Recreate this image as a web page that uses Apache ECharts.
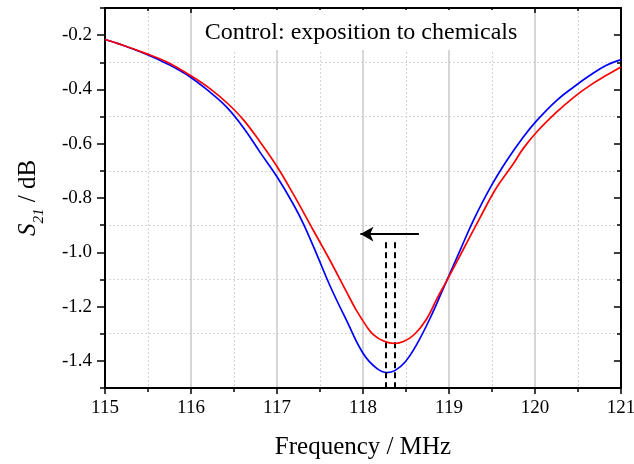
<!DOCTYPE html>
<html>
<head>
<meta charset="utf-8">
<script src="https://cdn.jsdelivr.net/npm/echarts@6/dist/echarts.min.js"></script>
<style>html,body{margin:0;padding:0;background:#fff}#c{width:634px;height:464px}</style>
</head>
<body>
<div id="c"></div>
<script>
const FONT = '"Liberation Serif", "Times New Roman", serif';
const titleText = 'Control: exposition to chemicals';
const xName = 'Frequency / MHz';
const xTicks = [115, 116, 117, 118, 119, 120, 121];
const yMajor = [-1.4, -1.2, -1.0, -0.8, -0.6, -0.4, -0.2];

const redX = [115.0,115.17,115.48,115.72,115.99,116.22,116.42,116.61,116.80,117.0,117.19,117.42,117.62,117.81,117.92,118.04,118.12,118.24,118.37,118.47,118.60,118.74,118.86,118.97,119.17,119.36,119.55,119.75,119.86,120.02,120.25,120.45,120.64,120.83,121.0];
const redY = [-0.216,-0.233,-0.268,-0.299,-0.348,-0.397,-0.450,-0.512,-0.592,-0.684,-0.786,-0.918,-1.032,-1.147,-1.212,-1.272,-1.303,-1.327,-1.336,-1.329,-1.302,-1.246,-1.171,-1.107,-0.987,-0.873,-0.763,-0.673,-0.619,-0.557,-0.484,-0.429,-0.385,-0.348,-0.317];
const blueX = [115.0,115.17,115.48,115.72,115.99,116.22,116.42,116.61,116.80,117.0,117.19,117.31,117.46,117.62,117.81,118.0,118.16,118.28,118.37,118.49,118.62,118.78,118.97,119.13,119.28,119.48,119.67,119.86,120.02,120.25,120.45,120.64,120.83,121.0];
const blueY = [-0.216,-0.233,-0.270,-0.305,-0.354,-0.410,-0.467,-0.541,-0.630,-0.722,-0.823,-0.897,-1.006,-1.126,-1.252,-1.372,-1.428,-1.443,-1.436,-1.404,-1.342,-1.243,-1.107,-0.992,-0.885,-0.762,-0.663,-0.577,-0.515,-0.441,-0.391,-0.348,-0.311,-0.290];

const arrowX = [118.65, 117.97];
const arrowY = -0.933;
const dashX = [118.27, 118.37];
const dashTop = -0.963;
const dashBottom = -1.5;

const zip = (xs, ys) => xs.map((x, i) => [x, ys[i]]);
const yMinor = [-1.5,-1.3,-1.1,-0.9,-0.7,-0.5,-0.3,-0.1];

const chart = echarts.init(document.getElementById('c'), null, {renderer: 'canvas'});
const axisLineStyle = {color: '#000', width: 2};
const minorGrid = {show: true, lineStyle: {color: '#d4d4d4', width: 1, type: [2, 2]}};

chart.setOption({
  animation: false,
  backgroundColor: '#fff',
  grid: {left: 105, right: 13, top: 8, bottom: 76, containLabel: false, outerBoundsMode: 'none'},
  graphic: [
    {type: 'rect', z: 3, shape: {x: 199, y: 10, width: 328, height: 40}, style: {fill: '#fff'}},
    {type: 'text', z: 4, x: 361, y: 33, style: {text: titleText, font: '24px ' + FONT, fill: '#000', textAlign: 'center', textVerticalAlign: 'middle'}}
  ],
  xAxis: [
    {
      type: 'value', position: 'bottom', min: 115, max: 121, interval: 1,
      name: xName, nameLocation: 'middle', nameGap: 47,
      nameTextStyle: {fontFamily: FONT, fontSize: 25, color: '#000'},
      axisLine: {show: true, onZero: false, lineStyle: axisLineStyle},
      axisTick: {show: true, inside: false, length: 6, lineStyle: {color: '#000', width: 1.5}},
      minorTick: {show: true, splitNumber: 2, length: 4, lineStyle: {color: '#000', width: 1.5}},
      axisLabel: {fontFamily: FONT, fontSize: 19, color: '#000', margin: 11},
      splitLine: {show: true, lineStyle: {color: '#c8c8c8', width: 1.5}},
      minorSplitLine: minorGrid
    },
    {
      type: 'value', position: 'top', min: 115, max: 121, interval: 1,
      axisLine: {show: true, onZero: false, lineStyle: axisLineStyle},
      axisTick: {show: true, inside: true, length: 5, lineStyle: {color: '#000', width: 1.5}},
      minorTick: {show: true, splitNumber: 2, length: 3, lineStyle: {color: '#000', width: 1.5}},
      axisLabel: {show: false}, splitLine: {show: false}
    }
  ],
  yAxis: [
    {
      type: 'value', position: 'left', min: -1.5, max: -0.1, interval: 0.1,
      name: '{i|S}{sub|21}{n| / dB}', nameLocation: 'middle', nameGap: 64, nameRotate: 90,
      nameTextStyle: {fontFamily: FONT, fontSize: 25, color: '#000',
        rich: {
          i: {fontFamily: FONT, fontSize: 25, fontStyle: 'italic', color: '#000', verticalAlign: 'middle'},
          sub: {fontFamily: FONT, fontSize: 15, fontStyle: 'italic', color: '#000', verticalAlign: 'bottom', padding: [0, 0, -6, 0]},
          n: {fontFamily: FONT, fontSize: 25, color: '#000', verticalAlign: 'middle'}
        }},
      axisLine: {show: true, onZero: false, lineStyle: axisLineStyle},
      axisTick: {show: true, inside: false, length: 8, customValues: yMajor, lineStyle: {color: '#000', width: 1.5}},
      axisLabel: {fontFamily: FONT, fontSize: 19, color: '#000', margin: 13, customValues: yMajor,
        formatter: v => (Math.round(v * 10) % 2 === 0 ? (Math.round(v * 10) / 10).toFixed(1) : '')},
      splitLine: {show: false}
    },
    {
      type: 'value', position: 'left', min: -1.5, max: -0.1, interval: 0.2,
      axisLine: {show: false},
      axisTick: {show: true, inside: false, length: 5, customValues: yMinor, lineStyle: {color: '#000', width: 1.5}},
      axisLabel: {show: false},
      splitLine: minorGrid
    },
    {
      type: 'value', position: 'right', min: -1.5, max: -0.1, interval: 0.1,
      axisLine: {show: true, onZero: false, lineStyle: axisLineStyle},
      axisTick: {show: true, inside: true, length: 7, customValues: yMajor, lineStyle: {color: '#000', width: 1.5}},
      axisLabel: {show: false}, splitLine: {show: false}
    },
    {
      type: 'value', position: 'right', min: -1.5, max: -0.1, interval: 0.2,
      axisLine: {show: false},
      axisTick: {show: true, inside: true, length: 4, customValues: yMinor, lineStyle: {color: '#000', width: 1.5}},
      axisLabel: {show: false}, splitLine: {show: false}
    }
  ],
  series: [
    {type: 'line', name: 'red', data: zip(redX, redY), showSymbol: false, smooth: 0.4,
      lineStyle: {color: '#ff0000', width: 1.7}, itemStyle: {color: '#ff0000'}, z: 5},
    {type: 'line', name: 'blue', data: zip(blueX, blueY), showSymbol: false, smooth: 0.4,
      lineStyle: {color: '#0000ff', width: 1.7}, itemStyle: {color: '#0000ff'}, z: 4},
    {type: 'line', name: 'annot', data: [], z: 6,
      markLine: {
        silent: true, animation: false, label: {show: false},
        symbol: ['none', 'none'],
        data: [
          [{coord: [arrowX[0], arrowY], symbol: 'none', lineStyle: {color: '#000', width: 2, type: 'solid'}},
           {coord: [arrowX[1], arrowY], symbol: 'arrow', symbolSize: [11, 13]}],
          [{coord: [dashX[0], dashTop], lineStyle: {color: '#000', width: 2, type: [6, 4]}}, {coord: [dashX[0], dashBottom]}],
          [{coord: [dashX[1], dashTop], lineStyle: {color: '#000', width: 2, type: [6, 4]}}, {coord: [dashX[1], dashBottom]}]
        ]
      }
    }
  ]
});
</script>
</body>
</html>
